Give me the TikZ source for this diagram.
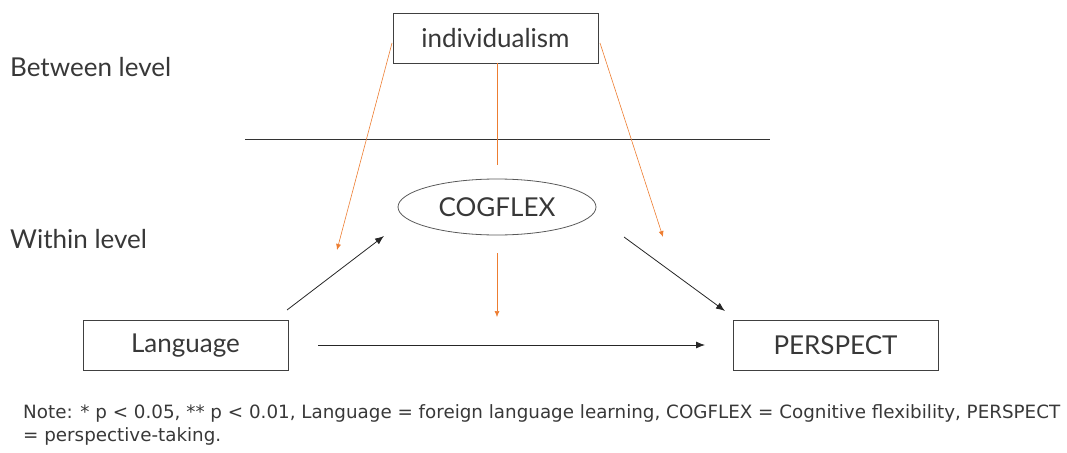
\documentclass[tikz,border=0pt]{standalone}
\usepackage{fontspec}
\setmainfont{Lato}
\newfontfamily\notefont{DejaVu Sans}
\usetikzlibrary{arrows.meta,shapes.geometric}
\definecolor{orng}{HTML}{ED7D31}
\definecolor{txt}{HTML}{383838}
\tikzset{
  box/.style={draw=black!75, line width=0.8pt, minimum width=205pt, minimum height=50pt, inner sep=0pt, font=\fontsize{26}{29}\selectfont, text=txt},
  oval/.style={ellipse, draw=black!65, line width=0.8pt, minimum width=198pt, minimum height=56pt, inner sep=0pt, font=\fontsize{26}{29}\selectfont, text=txt},
  lbl/.style={anchor=base west, inner sep=0pt, font=\fontsize{26}{29}\selectfont, text=txt},
  oarr/.style={draw=orng, line width=0.6pt, -{Latex[length=6pt,width=5pt]}},
  barr/.style={draw=black!85, line width=0.8pt, -{Latex[length=9pt,width=7pt]}},
  oline/.style={draw=orng, line width=0.6pt},
  note/.style={anchor=base west, inner sep=0pt, font=\notefont\fontsize{18.3}{20}\selectfont, text=txt},
}
\begin{document}
\begin{tikzpicture}[x=1pt,y=-1pt]
\useasboundingbox (0,0) rectangle (1067,452);
\node[lbl] (between) at (10,76) {Between level};
\node[lbl] (within) at (10,248) {Within level};
\node[box] (ind) at (495.5,38) {individualism};
\node[oval] (cog) at (497,207) {COGFLEX};
\node[box] (lang) at (185.5,345.5) {Language};
\node[box] (per) at (835.5,345) {PERSPECT};
\coordinate (hl) at (245,139);
\coordinate (hr) at (770,139);
\draw[black!80, line width=0.8pt] (hl) -- (hr);
% orange moderation paths
\coordinate (lt) at (392,43);
\coordinate (le) at (337,250);
\coordinate (rt) at (600,43);
\coordinate (re) at (663,237);
\coordinate (ms) at (497,63);
\coordinate (me) at (497,165);
\coordinate (m2s) at (497,253);
\coordinate (m2e) at (497,317);
\draw[oarr] (lt) -- (le);
\draw[oarr] (rt) -- (re);
\draw[oline] (ms) -- (me);
\draw[oarr] (m2s) -- (m2e);
% black paths
\coordinate (a1s) at (287,310);
\coordinate (a1e) at (384,236);
\coordinate (a2s) at (624,237);
\coordinate (a2e) at (725,311);
\coordinate (a3s) at (318,345);
\coordinate (a3e) at (705,345);
\draw[barr] (a1s) -- (a1e);
\draw[barr] (a2s) -- (a2e);
\draw[barr] (a3s) -- (a3e);
\node[note] (note1) at (23,418) {Note: * p < 0.05, ** p < 0.01, Language = foreign language learning, COGFLEX = Cognitive flexibility, PERSPECT};
\node[note] (note2) at (23,441) {= perspective-taking.};
\end{tikzpicture}
\end{document}
